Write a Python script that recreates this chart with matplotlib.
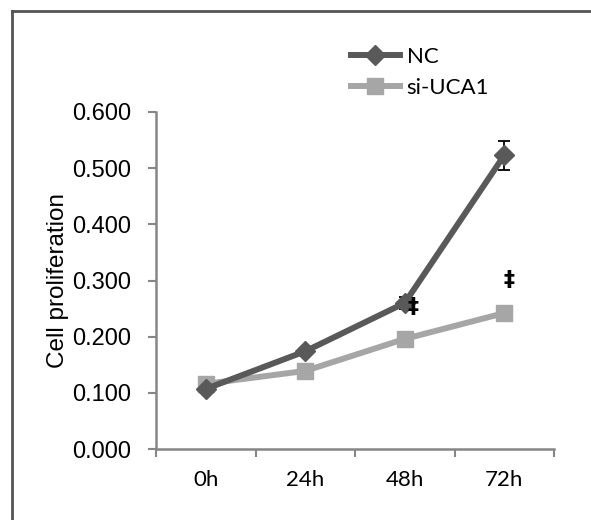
import numpy as np
import matplotlib.pyplot as plt
from matplotlib.lines import Line2D

# Data
time_labels = ['0h', '24h', '48h', '72h']
nc_values = [0.107, 0.174, 0.260, 0.523]
nc_err = [0.004, 0.006, 0.010, 0.026]
si_values = [0.116, 0.139, 0.196, 0.242]
si_err = [0.004, 0.004, 0.005, 0.006]
sig_x = [2.08, 3.05]       # where the significance marks sit
sig_y = [0.253, 0.301]
y_ticks = [0.0, 0.1, 0.2, 0.3, 0.4, 0.5, 0.6]

nc_color = '#595959'
si_color = '#a6a6a6'
axis_color = '#868686'

fig = plt.figure(figsize=(5.91, 5.20), dpi=100)
ax = fig.add_axes([156/591, 1 - 449/520, (554-156)/591, (449-112)/520])

x = np.arange(len(time_labels))

# error bars sit underneath the markers
ax.errorbar(x, nc_values, yerr=nc_err, fmt='none', ecolor='black',
            elinewidth=1.3, capsize=4, capthick=1.3, zorder=1)
ax.errorbar(x, si_values, yerr=si_err, fmt='none', ecolor='black',
            elinewidth=1.3, capsize=4, capthick=1.3, zorder=1)

ax.plot(x, nc_values, color=nc_color, lw=4.3, marker='D', markersize=10,
        markerfacecolor=nc_color, markeredgecolor=nc_color, zorder=3, label='NC')
ax.plot(x, si_values, color=si_color, lw=4.3, marker='s', markersize=12,
        markerfacecolor=si_color, markeredgecolor=si_color, zorder=2, label='si-UCA1')

for sx, sy in zip(sig_x, sig_y):
    ax.text(sx, sy, '\u2021', ha='center', va='center', fontsize=16,
            fontweight='bold', color='black', family='DejaVu Sans', zorder=4)

ax.set_xlim(-0.5, len(time_labels) - 0.5)
ax.set_ylim(0, 0.6)

# category ticks between the groups, labels centred
ax.set_xticks(np.arange(-0.5, len(time_labels), 1.0))
ax.set_xticklabels([])
ax.set_xticks(x, minor=True)
ax.set_xticklabels(time_labels, minor=True, fontsize=16, family='Lato')
ax.tick_params(axis='x', which='minor', length=0, pad=15)
ax.tick_params(axis='x', which='major', length=6, width=1.5, color=axis_color)

ax.set_yticks(y_ticks)
ax.set_yticklabels(['%.3f' % v for v in y_ticks], fontsize=17,
                   family='Liberation Sans')
ax.tick_params(axis='y', length=6, width=1.5, color=axis_color, pad=12)

ax.set_ylabel('Cell proliferation', fontsize=17.5, family='Liberation Sans',
              labelpad=2)

for side in ['top', 'right']:
    ax.spines[side].set_visible(False)
for side in ['left', 'bottom']:
    ax.spines[side].set_color(axis_color)
    ax.spines[side].set_linewidth(1.8)

leg = ax.legend(loc='upper left', bbox_to_anchor=(351/591, 1 - 47/520),
                bbox_transform=fig.transFigure, frameon=False,
                prop={'family': 'Lato', 'size': 16}, handlelength=2.2,
                handletextpad=0.3, labelspacing=0.5, borderpad=0,
                borderaxespad=0)

# frame lines on top and left of the picture
fig.add_artist(Line2D([12/591, 1], [1 - 11/520, 1 - 11/520],
                      transform=fig.transFigure, color='#555555', lw=2))
fig.add_artist(Line2D([12/591, 12/591], [0, 1 - 11/520],
                      transform=fig.transFigure, color='#555555', lw=2))

fig.savefig('out.png', dpi=100)
